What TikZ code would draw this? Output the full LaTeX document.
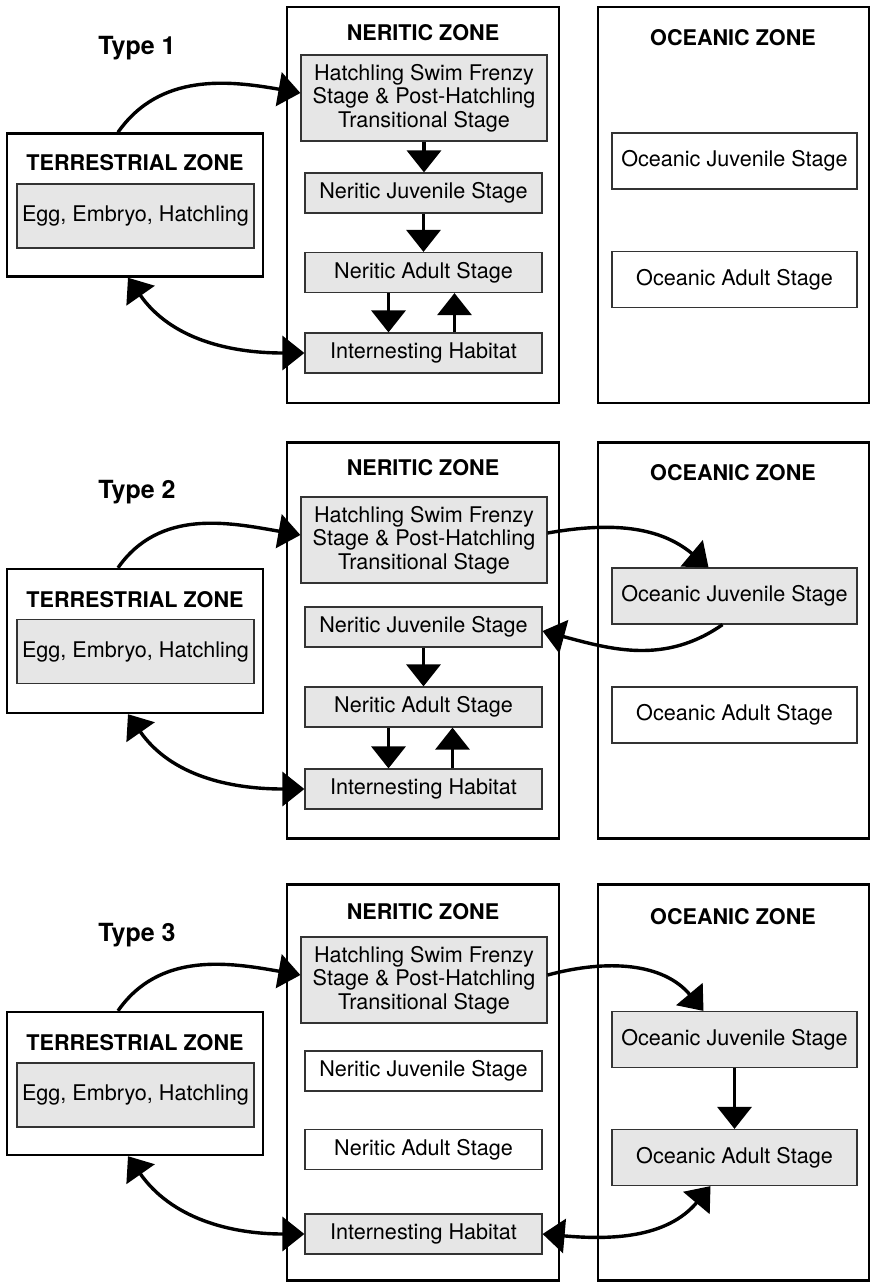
\documentclass[tikz,border=0pt]{standalone}
\usepackage{fontspec}
\setmainfont{TeX Gyre Heros}
\usepackage{xcolor}
\usetikzlibrary{arrows.meta}
\definecolor{StageGray}{HTML}{E6E6E6}
\definecolor{EdgeGray}{HTML}{333333}
\tikzset{
  zonenode/.style={
    draw=black,line width=1.2pt,fill=white,inner sep=0pt
  },
  terzone/.style={zonenode,minimum width=128pt,minimum height=71.5pt},
  nerzone/.style={zonenode,minimum width=136pt,minimum height=198pt},
  ocezone/.style={zonenode,minimum width=135.5pt,minimum height=198pt},
  stagenode/.style={
    draw=EdgeGray,fill=StageGray,line width=0.6pt,
    minimum width=118.5pt,minimum height=20pt,
    font=\fontsize{10.8}{11.7}\selectfont,
    align=center,inner sep=0pt
  },
  hatchnode/.style={stagenode,minimum width=123pt,minimum height=43pt},
  oceannode/.style={stagenode,minimum width=122.5pt,minimum height=28pt},
  eggnode/.style={stagenode,minimum height=32pt},
  idle/.style={fill=white},
  titlenode/.style={font=\fontsize{10.8}{12}\selectfont\bfseries,inner sep=0pt},
  typenode/.style={font=\fontsize{12.5}{14}\selectfont\bfseries,inner sep=0pt},
  lifearrow/.style={line width=1.7pt,-{Triangle[length=11pt,width=17pt]}},
  twoway/.style={line width=1.7pt,
    {Triangle[length=11pt,width=17pt]}-{Triangle[length=11pt,width=17pt]}},
}

\begin{document}
\begin{tikzpicture}[x=0.5pt,y=0.5pt]
  \useasboundingbox (0,0) rectangle (871,-1282);

  % Type 1
  \node[typenode] (typeA) at (137,-48) {Type 1};
  \node[terzone] (terA) at (135,-205) {};
  \node[titlenode] (terAt) at (135,-163) {TERRESTRIAL ZONE};
  \node[eggnode] (eggA) at (135.5,-216) {Egg, Embryo, Hatchling};
  \node[nerzone] (nerA) at (423,-205) {};
  \node[titlenode] (nerAt) at (423,-33) {NERITIC ZONE};
  \node[hatchnode] (hatchA) at (424,-98) {Hatchling Swim Frenzy\\Stage \& Post-Hatchling\\Transitional Stage};
  \node[stagenode] (njA) at (423.5,-193) {Neritic Juvenile Stage};
  \node[stagenode] (naA) at (423.5,-272.5) {Neritic Adult Stage};
  \node[stagenode] (ihA) at (423.5,-353) {Internesting Habitat};
  \node[ocezone] (oceA) at (733.5,-205) {};
  \node[titlenode] (oceAt) at (733,-38) {OCEANIC ZONE};
  \node[oceannode,idle] (ojA) at (734.5,-161) {Oceanic Juvenile Stage};
  \node[oceannode,idle] (oaA) at (734.5,-279.5) {Oceanic Adult Stage};
  \draw[lifearrow] ([xshift=-8.5pt]terA.north) to[out=55,in=170] ([yshift=2.5pt]hatchA.west);
  \draw[lifearrow] (hatchA.south) -- (hatchA.south |- njA.north);
  \draw[lifearrow] (njA) -- (naA);
  \draw[lifearrow] ([xshift=-17.5pt]naA.south) -- ([xshift=-17.5pt]ihA.north);
  \draw[lifearrow] ([xshift=15.5pt]ihA.north) -- ([xshift=15.5pt]naA.south);
  \draw[twoway] ([xshift=-3.5pt]terA.south) to[out=-55,in=180] (ihA.west);

  % Type 2
  \node[typenode] (typeB) at (137,-492) {Type 2};
  \node[terzone,minimum height=72pt] (terB) at (135,-641) {};
  \node[titlenode] (terBt) at (135,-600) {TERRESTRIAL ZONE};
  \node[eggnode] (eggB) at (135.5,-651.5) {Egg, Embryo, Hatchling};
  \node[nerzone] (nerB) at (423,-640.5) {};
  \node[titlenode] (nerBt) at (423,-468) {NERITIC ZONE};
  \node[hatchnode] (hatchB) at (424,-540) {Hatchling Swim Frenzy\\Stage \& Post-Hatchling\\Transitional Stage};
  \node[stagenode] (njB) at (423.5,-627) {Neritic Juvenile Stage};
  \node[stagenode] (naB) at (423.5,-707) {Neritic Adult Stage};
  \node[stagenode] (ihB) at (423.5,-789) {Internesting Habitat};
  \node[ocezone] (oceB) at (733.5,-640.5) {};
  \node[titlenode] (oceBt) at (733,-473) {OCEANIC ZONE};
  \node[oceannode] (ojB) at (734.5,-596) {Oceanic Juvenile Stage};
  \node[oceannode,idle] (oaB) at (734.5,-715) {Oceanic Adult Stage};
  \draw[lifearrow] ([xshift=-8.5pt]terB.north) to[out=55,in=170] ([yshift=2.5pt]hatchB.west);
  \draw[lifearrow] ([yshift=3.5pt]hatchB.east) to[out=10,in=140] ([xshift=-13pt]ojB.north);
  \draw[lifearrow] ([xshift=-6pt]ojB.south) to[out=-145,in=-15] ([yshift=-2pt]njB.east);
  \draw[lifearrow] (njB) -- (naB);
  \draw[lifearrow] ([xshift=-17.5pt]naB.south) -- ([xshift=-17.5pt]ihB.north);
  \draw[lifearrow] ([xshift=14.5pt]ihB.north) -- ([xshift=14.5pt]naB.south);
  \draw[twoway] ([xshift=-3.5pt]terB.south) to[out=-55,in=180] (ihB.west);

  % Type 3
  \node[typenode] (typeC) at (137,-935) {Type 3};
  \node[terzone] (terC) at (135,-1083.5) {};
  \node[titlenode] (terCt) at (135,-1043) {TERRESTRIAL ZONE};
  \node[eggnode] (eggC) at (135.5,-1095) {Egg, Embryo, Hatchling};
  \node[nerzone] (nerC) at (423,-1082.5) {};
  \node[titlenode] (nerCt) at (423,-912) {NERITIC ZONE};
  \node[hatchnode] (hatchC) at (424,-980) {Hatchling Swim Frenzy\\Stage \& Post-Hatchling\\Transitional Stage};
  \node[stagenode,idle] (njC) at (423.5,-1071) {Neritic Juvenile Stage};
  \node[stagenode,idle] (naC) at (423.5,-1149.5) {Neritic Adult Stage};
  \node[stagenode] (ihC) at (423.5,-1234) {Internesting Habitat};
  \node[ocezone] (oceC) at (733.5,-1082.5) {};
  \node[titlenode] (oceCt) at (733,-917) {OCEANIC ZONE};
  \node[oceannode] (ojC) at (734.5,-1039.5) {Oceanic Juvenile Stage};
  \node[oceannode] (oaC) at (734.5,-1157.5) {Oceanic Adult Stage};
  \draw[lifearrow] ([xshift=-8.5pt]terC.north) to[out=55,in=170] ([yshift=2.5pt]hatchC.west);
  \draw[lifearrow] ([yshift=2.5pt]hatchC.east) to[out=15,in=130] ([xshift=-15.5pt]ojC.north);
  \draw[lifearrow] (ojC) -- (oaC);
  \draw[twoway] (ihC.east) to[out=-5,in=-130] ([xshift=-12pt]oaC.south);
  \draw[twoway] ([xshift=-3.5pt]terC.south) to[out=-55,in=180] (ihC.west);
\end{tikzpicture}
\end{document}
